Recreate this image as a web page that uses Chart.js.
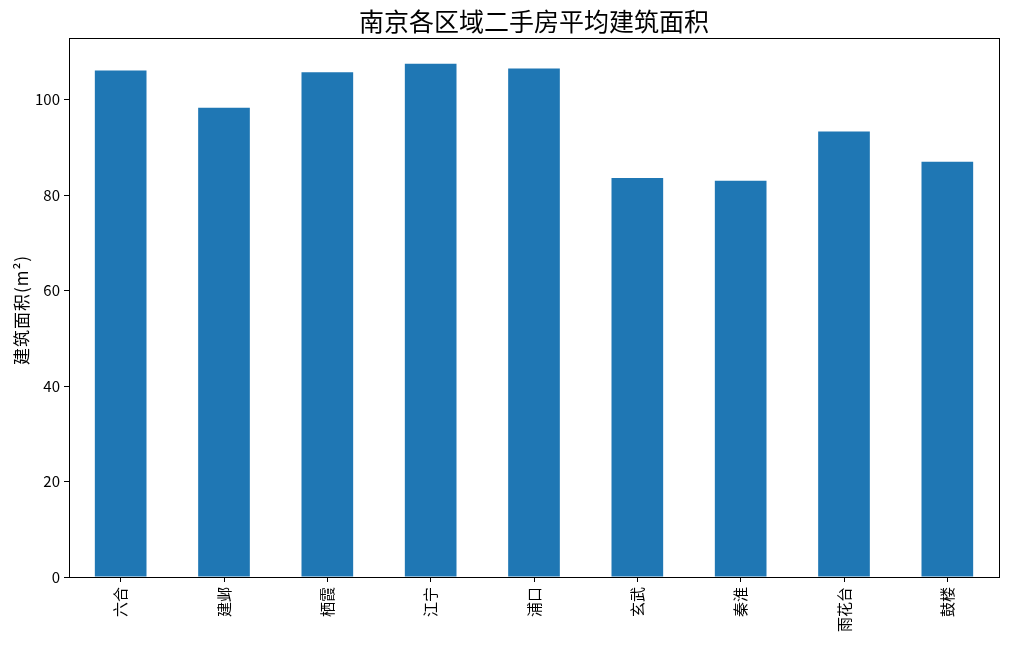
<!DOCTYPE html>
<html>
<head>
<meta charset="utf-8">
<script src="https://cdn.jsdelivr.net/npm/chart.js@4"></script>
<style>
html,body{margin:0;padding:0;background:#fff;}
#wrap{width:1009px;height:647px;position:relative;}
</style>
</head>
<body>
<div id="wrap"><canvas id="c" width="1009" height="647"></canvas></div>
<script>
const districts = ['六合','建邺','栖霞','江宁','浦口','玄武','秦淮','雨花台','鼓楼'];
const avgArea = [106.1, 98.3, 105.7, 107.5, 106.5, 83.6, 83.0, 93.3, 87.0];
const yTicks = [0, 20, 40, 60, 80, 100];
const titleText = '南京各区域二手房平均建筑面积';
const yLabel = '建筑面积(m²)';

const FONT = "'Noto Sans CJK SC', 'DejaVu Sans', sans-serif";

const framePlugin = {
  id: 'frame',
  afterDraw(chart) {
    const {ctx, chartArea: a} = chart;
    ctx.save();
    ctx.strokeStyle = '#000';
    ctx.lineWidth = 1;
    ctx.strokeRect(Math.round(a.left) + 0.5, Math.round(a.top) + 0.5,
                   Math.round(a.right - a.left), Math.round(a.bottom - a.top));
    ctx.fillStyle = '#000';
    ctx.textAlign = 'center';
    ctx.textBaseline = 'middle';
    ctx.font = '25px ' + FONT;
    ctx.fillText(titleText, (a.left + a.right) / 2, 21);
    ctx.font = '17px ' + FONT;
    ctx.translate(22, 310);
    ctx.rotate(-Math.PI / 2);
    try { ctx.letterSpacing = '1px'; } catch (e) {}
    ctx.fillText(yLabel, 0, 0);
    ctx.restore();
  }
};

new Chart(document.getElementById('c'), {
  type: 'bar',
  data: {
    labels: districts,
    datasets: [{
      data: avgArea,
      backgroundColor: '#1f77b4',
      borderWidth: 0,
      borderColor: '#1f77b4',
      categoryPercentage: 1.0,
      barPercentage: 0.5
    }]
  },
  options: {
    responsive: false,
    animation: false,
    devicePixelRatio: 1,
    layout: { padding: { left: 0, right: 10, top: 38, bottom: 0 } },
    plugins: { legend: { display: false }, tooltip: { enabled: false }, title: { display: false } },
    scales: {
      x: {
        offset: true,
        grid: { display: true, drawOnChartArea: false, drawTicks: true, tickLength: 5, color: '#000', offset: false },
        border: { display: true, color: '#000', width: 1 },
        ticks: { color: '#000', font: { family: FONT, size: 15 }, minRotation: 90, maxRotation: 90, padding: 5, autoSkip: false },
        afterFit(s) { s.height = 70; }
      },
      y: {
        min: 0,
        max: 112.9,
        afterBuildTicks(s) { s.ticks = yTicks.map(v => ({ value: v })); },
        grid: { display: true, drawOnChartArea: false, drawTicks: true, tickLength: 5, color: '#000' },
        border: { display: true, color: '#000', width: 1 },
        ticks: { color: '#000', font: { family: FONT, size: 15 }, padding: 4 },
        afterFit(s) { s.width = 69; }
      }
    }
  },
  plugins: [framePlugin]
});
</script>
</body>
</html>
